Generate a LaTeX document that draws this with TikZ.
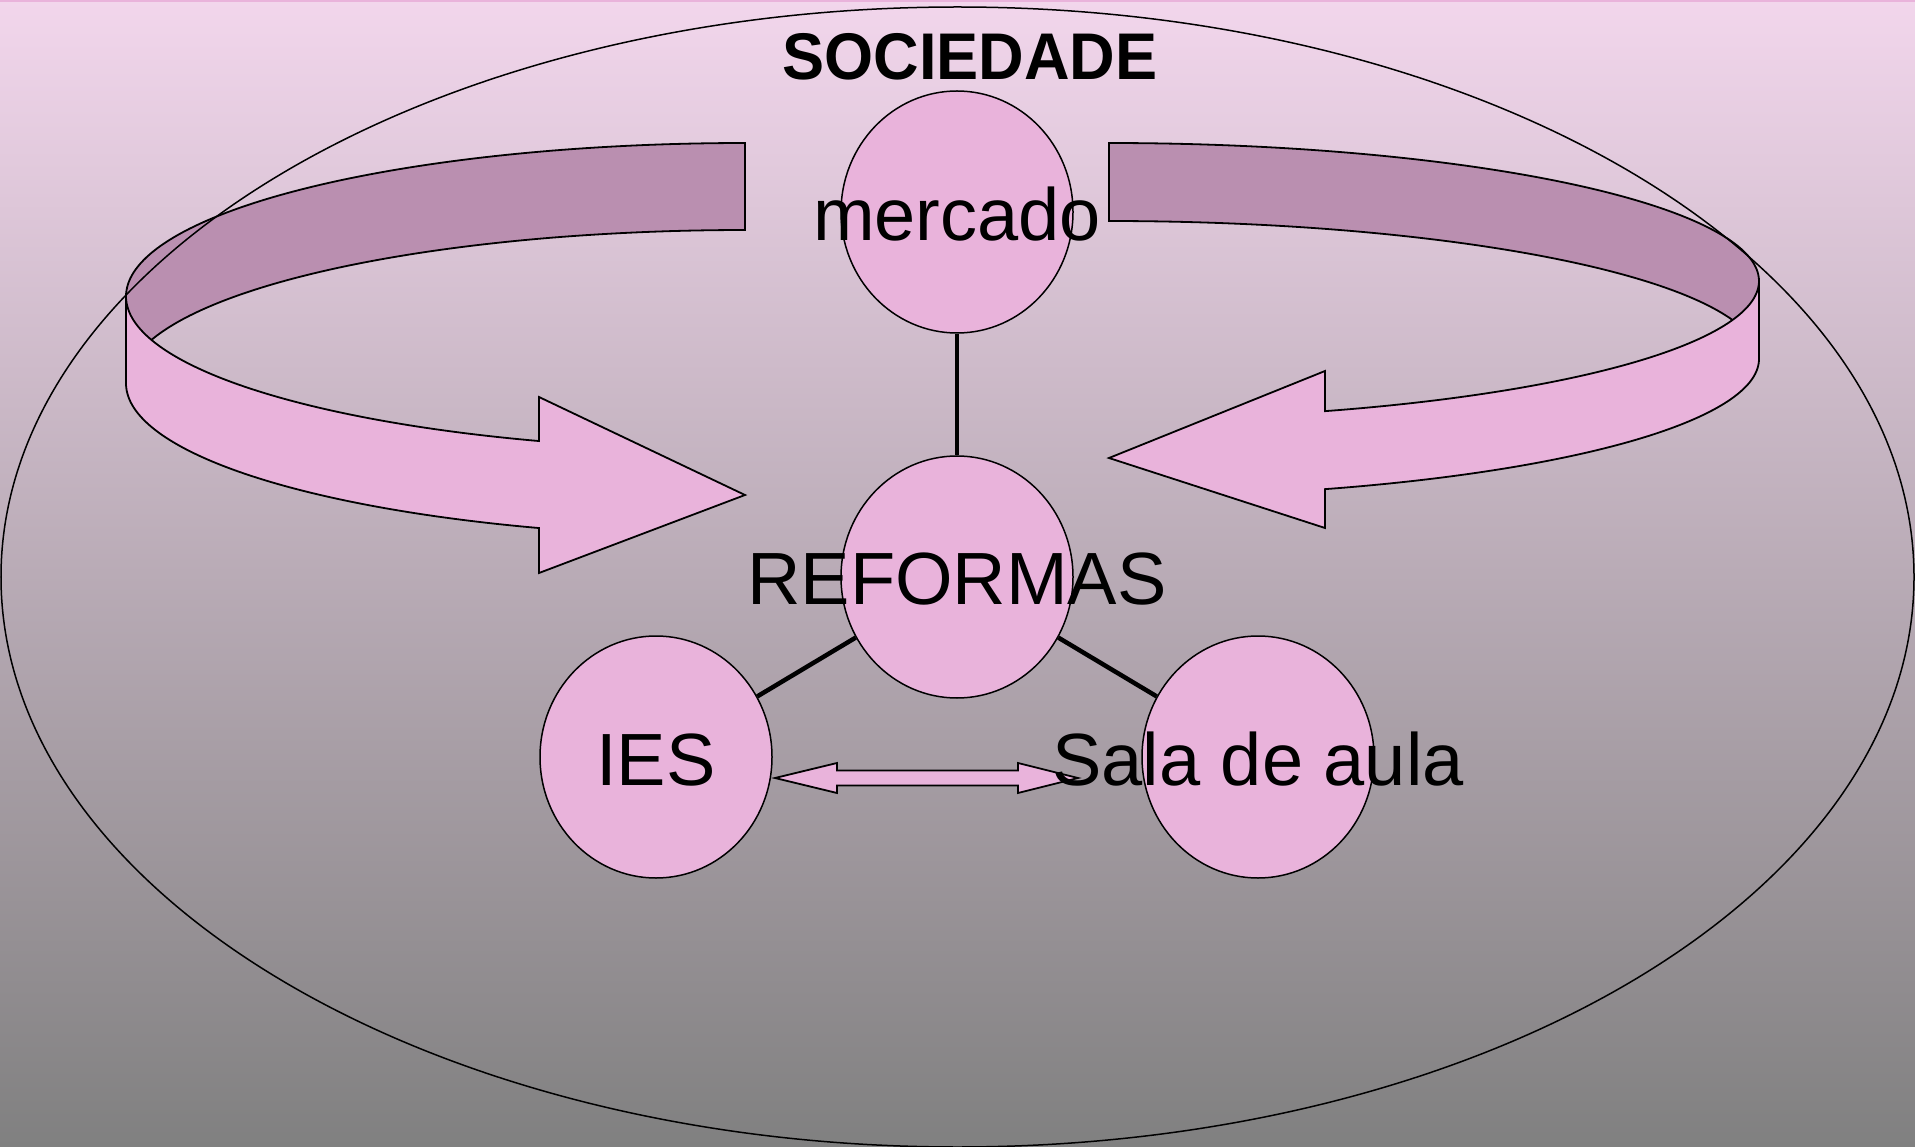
\documentclass[tikz,border=0pt]{standalone}
\usepackage{fontspec}
\usepackage{graphicx}
\setmainfont{Liberation Sans}
\usetikzlibrary{shapes.geometric,calc}
\definecolor{pinkfill}{RGB}{233,179,219}
\definecolor{darkfill}{RGB}{186,143,176}
\definecolor{bgtop}{RGB}{242,214,236}
\definecolor{bgbot}{RGB}{128,128,128}
\tikzset{
  bubble/.style={ellipse, draw=black, line width=1.5pt, fill=pinkfill, minimum width=232pt, minimum height=242pt, inner sep=0pt},
  bigtext/.style={font=\fontsize{74}{80}\selectfont, anchor=base, inner sep=0pt},
  link/.style={line width=4.5pt},
  ribbon/.style={draw=black, line width=1.8pt, line join=miter},
  backpart/.style={ribbon, fill=darkfill},
  frontpart/.style={ribbon, fill=pinkfill},
}
\begin{document}
\begin{tikzpicture}[x=1pt,y=-1pt]
\useasboundingbox (0,0) rectangle (1915,1147);
\shade[top color=bgtop, bottom color=bgbot] (0,0) rectangle (1915,1147);
\fill[pinkfill] (0,0) rectangle (1915,2.5);

% left curved arrow
\path[backpart] plot[domain=270:180, samples=80] ({745+619*cos(\x)},{296.4+153.4*sin(\x)})
  -- plot[domain=180:270, samples=80] ({745+619*cos(\x)},{383.4+153.4*sin(\x)}) -- cycle;
\path[frontpart] plot[domain=180:109.44, samples=80] ({745+619*cos(\x)},{296.4+153.4*sin(\x)})
  -- (539,397) -- (745,495) -- (539,573)
  -- plot[domain=109.44:180, samples=80] ({745+619*cos(\x)},{383.4+153.4*sin(\x)}) -- cycle;

% right curved arrow
\path[backpart] plot[domain=270:360, samples=80] ({1109+650*cos(\x)},{281+138*sin(\x)})
  -- plot[domain=360:270, samples=80] ({1109+650*cos(\x)},{359+138*sin(\x)}) -- cycle;
\path[frontpart] plot[domain=0:70.6, samples=80] ({1109+650*cos(\x)},{281+138*sin(\x)})
  -- (1325,371) -- (1109,458) -- (1325,528)
  -- plot[domain=70.6:0, samples=80] ({1109+650*cos(\x)},{359+138*sin(\x)}) -- cycle;

% society ellipse
\node[ellipse, draw=black, line width=1.5pt, minimum width=1913pt, minimum height=1140pt, inner sep=0pt] (soc) at (957.5,577) {};

% bubbles
\node[bubble] (mer) at (957,212) {};
\node[bubble] (ref) at (957,577) {};
\node[bubble] (ies) at (656,757) {};
\node[bubble] (sala) at (1258,757) {};
\draw[link] (mer) -- (ref);
\draw[link] (ref) -- (ies);
\draw[link] (ref) -- (sala);

% double arrow between IES and Sala de aula
\coordinate (dl) at (775,778);
\coordinate (dr) at (1078,778);
\path[frontpart] (dl) -- ($(dl)+(62,-15)$) -- ($(dl)+(62,-7.5)$) -- ($(dr)+(-60,-7.5)$)
  -- ($(dr)+(-60,-15)$) -- (dr) -- ($(dr)+(-60,15)$) -- ($(dr)+(-60,7.5)$)
  -- ($(dl)+(62,7.5)$) -- ($(dl)+(62,15)$) -- cycle;

% texts
\node[anchor=base, inner sep=0pt, font=\bfseries\fontsize{66}{72}\selectfont] (soctext) at (970,80) {\scalebox{0.956}[1]{SOCIEDADE}};
\node[bigtext] (tmer) at (957,241) {mercado};
\node[bigtext] (tref) at (957,604) {REFORMAS};
\node[bigtext] (ties) at (656,785) {IES};
\node[bigtext] (tsala) at (1258,785) {Sala de aula};
\end{tikzpicture}
\end{document}
